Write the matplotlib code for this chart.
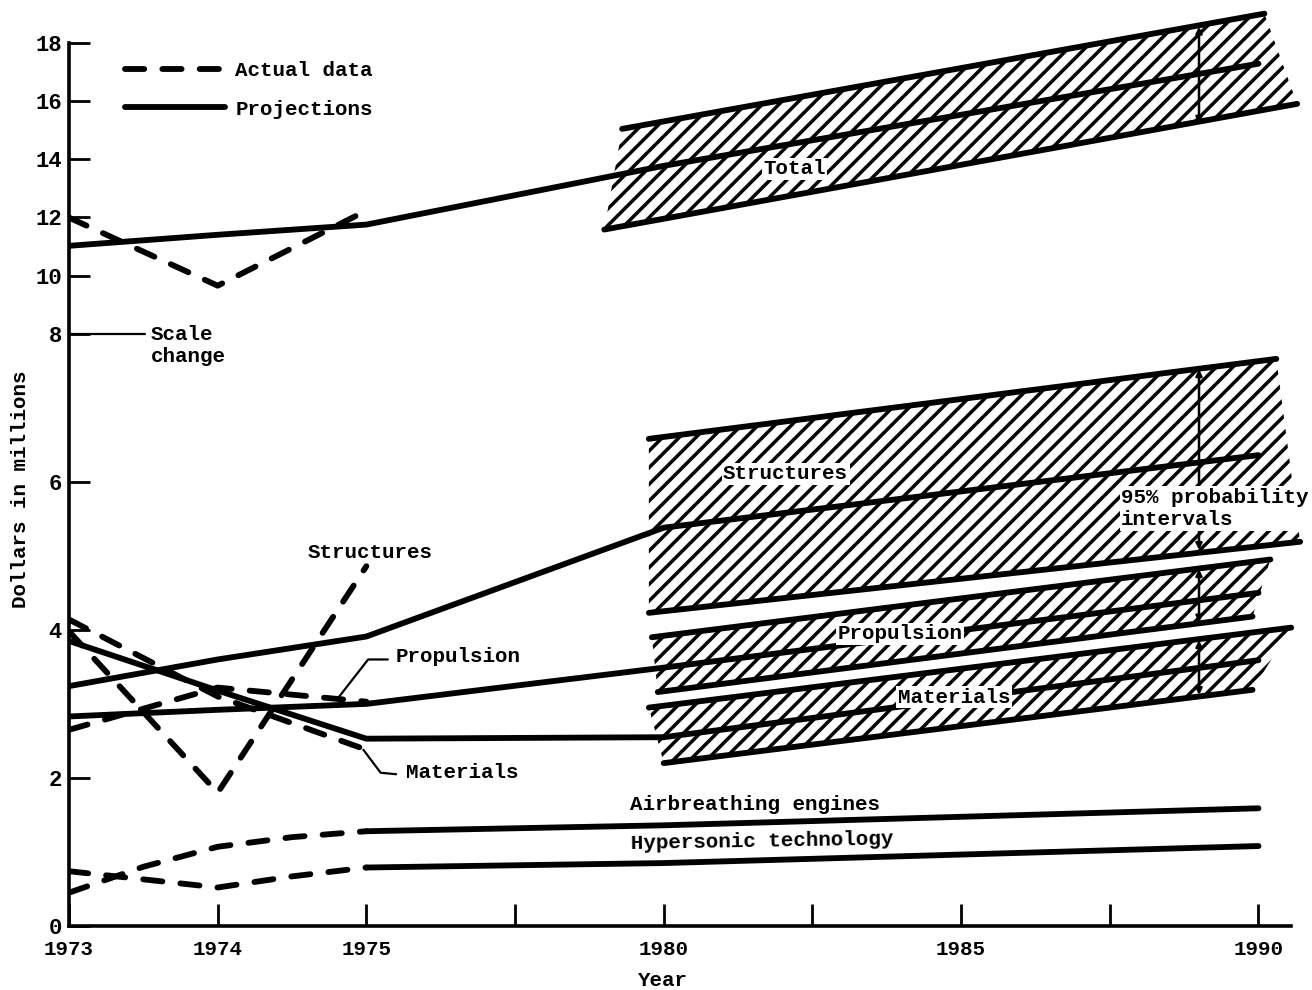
import numpy as np
import matplotlib
matplotlib.use("Agg")
import matplotlib.pyplot as plt
from matplotlib.lines import Line2D

# typewriter look
plt.rcParams.update({
    "font.family": "Liberation Mono",
    "font.weight": "bold",
    "axes.labelweight": "bold",
    "font.size": 15,
    "hatch.linewidth": 2.5,
    "lines.solid_capstyle": "round",
    "lines.dash_capstyle": "round",
})

# ---- actual data (dashed) ----
act_years = [1973, 1974, 1975]
total_act = [11.99, 9.65, 12.23]
struct_act = [3.98, 1.8, 4.86]
prop_act = [2.65, 3.22, 3.03]
mat_act = [4.14, 3.1, 2.38]
small_act_years = [1973, 1973.5, 1974, 1974.5, 1975]
air_act = [0.45, 0.8, 1.07, 1.2, 1.28]
hyper_act = [0.74, 0.63, 0.52, 0.67, 0.79]

# ---- projections (solid) ----
proj_years = [1973, 1974, 1975, 1980, 1990]
total_proj = [11.02, 11.4, 11.75, 13.77, 17.28]
struct_proj = [3.24, 3.6, 3.91, 5.38, 6.36]
prop_proj = [2.83, 2.92, 3.0, 3.49, 4.5]
mat_proj = [3.85, 3.18, 2.53, 2.55, 3.59]
small_proj_years = [1975, 1980, 1990]
air_proj = [1.28, 1.36, 1.59]
hyper_proj = [0.79, 0.85, 1.08]

# ---- 95% probability bands (upper / lower edges) ----
total_hi_years, total_hi = [1979.3, 1990.1], [15.04, 19.0]
total_lo_years, total_lo = [1979.0, 1990.65], [11.58, 15.9]
struct_hi_years, struct_hi = [1979.75, 1990.3], [6.58, 7.66]
struct_lo_years, struct_lo = [1979.75, 1990.7], [4.23, 5.19]
prop_hi_years, prop_hi = [1979.8, 1990.2], [3.9, 4.95]
prop_lo_years, prop_lo = [1979.9, 1989.9], [3.16, 4.18]
mat_hi_years, mat_hi = [1979.75, 1990.55], [2.95, 4.03]
mat_lo_years, mat_lo = [1980.0, 1989.9], [2.2, 3.19]

# interval markers at 1989
interval_year = 1989
interval_lo = [15.22, 5.08, 4.1, 3.12]
interval_hi = [18.55, 7.52, 4.82, 3.86]

xtick_pos = [1973, 1974, 1975, 1977.5, 1980, 1982.5, 1985, 1987.5, 1990]
xtick_lab = ["1973", "1974", "1975", "", "1980", "", "1985", "", "1990"]
ytick_pos = [0, 2, 4, 6, 8, 10, 12, 14, 16, 18]


# broken scales: 1973-75 one year per tick, then 2.5 years per tick
def fx(x):
    x = np.asarray(x, float)
    return np.where(x <= 1975, x - 1973, 2 + (x - 1975) / 2.5)


def fx_inv(t):
    t = np.asarray(t, float)
    return np.where(t <= 2, t + 1973, 1975 + (t - 2) * 2.5)


# scale change above 8
def fy(y):
    y = np.asarray(y, float)
    return np.where(y <= 8, y, 8 + (y - 8) * 0.393)


def fy_inv(t):
    t = np.asarray(t, float)
    return np.where(t <= 8, t, 8 + (t - 8) / 0.393)


fig = plt.figure(figsize=(13.12, 9.9), dpi=100)
ax = fig.add_axes([69 / 1312, 64 / 990, 1243 / 1312, 924 / 990])
ax.set_xscale("function", functions=(fx, fx_inv))
ax.set_yscale("function", functions=(fy, fy_inv))
ax.set_xlim(1973, 1990.9)
ax.set_ylim(0, 19.4)

LW = 4.2
dash = (0, (3.3, 3.1))

# hatched bands
bands = [(total_hi_years, total_hi, total_lo_years, total_lo),
         (struct_hi_years, struct_hi, struct_lo_years, struct_lo),
         (prop_hi_years, prop_hi, prop_lo_years, prop_lo),
         (mat_hi_years, mat_hi, mat_lo_years, mat_lo)]
for hx, hy, lx, ly in bands:
    ax.fill(list(hx) + list(lx[::-1]), list(hy) + list(ly[::-1]),
            facecolor="none", edgecolor="black", linewidth=0, hatch="//", zorder=1)
    ax.plot(hx, hy, color="black", lw=LW, zorder=2)
    ax.plot(lx, ly, color="black", lw=LW, zorder=2)

# projections
for vals in [total_proj, struct_proj, prop_proj, mat_proj]:
    ax.plot(proj_years, vals, color="black", lw=LW, zorder=2)
for vals in [air_proj, hyper_proj]:
    ax.plot(small_proj_years, vals, color="black", lw=LW, zorder=2)

# actual data
for vals in [total_act, struct_act, prop_act, mat_act]:
    ax.plot(act_years, vals, color="black", lw=LW, linestyle=dash, zorder=2)
for vals in [air_act, hyper_act]:
    ax.plot(small_act_years, vals, color="black", lw=LW, linestyle=dash, zorder=2)

# interval arrows
for lo, hi in zip(interval_lo, interval_hi):
    ax.annotate("", xy=(interval_year, hi), xytext=(interval_year, lo),
                arrowprops=dict(arrowstyle="<|-|>", lw=1.8, color="black",
                                mutation_scale=9, shrinkA=0, shrinkB=0), zorder=3)

# axes styling
for s in ["top", "right"]:
    ax.spines[s].set_visible(False)
ax.spines["left"].set_bounds(0, 18)
ax.spines["bottom"].set_bounds(1973, 1990.55)
ax.spines["left"].set_linewidth(2.6)
ax.spines["bottom"].set_linewidth(2.6)
ax.set_xticks(xtick_pos)
ax.set_xticklabels(xtick_lab)
ax.set_yticks(ytick_pos)
ax.set_yticklabels([str(v) for v in ytick_pos])
ax.tick_params(axis="x", direction="in", length=16, width=2, pad=10, labelsize=15)
ax.tick_params(axis="y", direction="in", length=15, width=2, pad=5, labelsize=16)
ax.minorticks_off()

ax.set_xlabel("Year", fontsize=15, fontweight="bold")
ax.xaxis.set_label_coords(0.478, -0.049)
ax.set_ylabel("Dollars in millions", fontsize=15, fontweight="bold")
ax.yaxis.set_label_coords(-0.031, 0.473)

# legend
handles = [Line2D([], [], color="black", lw=LW, linestyle=dash),
           Line2D([], [], color="black", lw=LW)]
ax.legend(handles, ["Actual data", "Projections"], loc="upper left",
          bbox_to_anchor=(0.045, 0.936), frameon=False, borderpad=0,
          borderaxespad=0, handlelength=4.8, handletextpad=0.5, labelspacing=0.93)

# scale change note
ax.plot([1973, 1973.51], [8, 8], color="black", lw=1.6, clip_on=False)
ax.text(1973.55, 7.84, "Scale\nchange", ha="left", va="center", linespacing=1.2)

# labels for lines
ax.text(1975.07, 5.04, "Structures", ha="center", va="center")
ax.text(1975.5, 3.64, "Propulsion", ha="left", va="center")
ax.plot([1975.36, 1975.03, 1974.81], [3.6, 3.6, 3.08], color="black", lw=1.6)
ax.text(1975.67, 2.08, "Materials", ha="left", va="center")
ax.plot([1974.98, 1975.24, 1975.5], [2.38, 2.07, 2.05], color="black", lw=1.6)
ax.text(1979.44, 1.64, "Airbreathing engines", ha="left", va="center")
ax.text(1979.44, 1.14, "Hypersonic technology", ha="left", va="center", rotation=1)

box = dict(facecolor="white", edgecolor="none", pad=1)
ax.text(1982.2, 13.67, "Total", ha="center", va="center", bbox=box, zorder=5)
ax.text(1982.05, 6.11, "Structures", ha="center", va="center", bbox=box, zorder=5)
ax.text(1983.98, 3.95, "Propulsion", ha="center", va="center", bbox=box, zorder=5)
ax.text(1984.88, 3.09, "Materials", ha="center", va="center", bbox=box, zorder=5)
ax.text(1987.69, 5.64, "95% probability\nintervals", ha="left", va="center",
        linespacing=1.25, bbox=box, zorder=5)

fig.savefig("out.png", dpi=100)
